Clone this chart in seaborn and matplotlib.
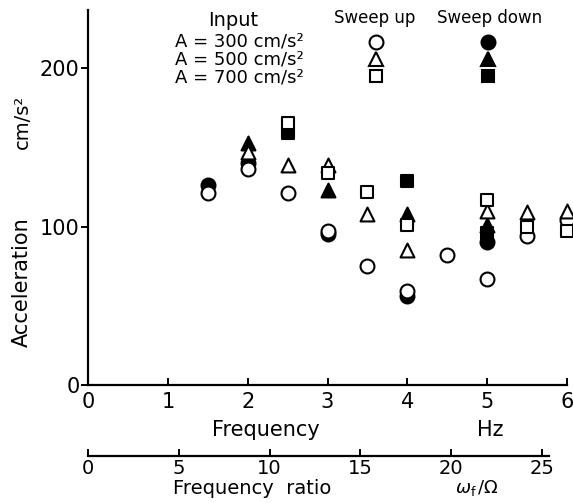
import matplotlib
matplotlib.use("Agg")
import matplotlib.pyplot as plt
from matplotlib.lines import Line2D
import numpy as np
import pandas as pd
import seaborn as sns

# Response acceleration (cm/s^2) against excitation frequency (Hz)
amplitudes = ["A = 300 cm/s²", "A = 500 cm/s²", "A = 700 cm/s²"]
amp_markers = {300: "o", 500: "^", 700: "s"}
amp_sizes = {300: 100, 500: 100, 700: 78}

freq_up_300 = [1.5, 2.0, 2.5, 3.0, 3.5, 4.0, 4.5, 5.0, 5.5, 6.0]
acc_up_300 = [121, 136, 121, 97, 75, 59, 82, 67, 94, 104]
freq_down_300 = [1.5, 2.0, 3.0, 4.0, 5.0]
acc_down_300 = [126, 140, 95, 56, 90]

freq_up_500 = [2.0, 2.5, 3.0, 3.5, 4.0, 5.0, 5.5, 6.0]
acc_up_500 = [147, 139, 139, 108, 85, 110, 109, 110]
freq_down_500 = [2.0, 3.0, 4.0, 5.0]
acc_down_500 = [153, 123, 108, 101]

freq_up_700 = [2.5, 3.0, 3.5, 4.0, 5.0, 5.5, 6.0]
acc_up_700 = [165, 134, 122, 101, 117, 100, 97]
freq_down_700 = [2.5, 4.0, 5.0]
acc_down_700 = [159, 129, 96]

x_ticks = [0, 1, 2, 3, 4, 5, 6]
y_ticks = [0, 100, 200]
ratio_ticks = [0, 5, 10, 15, 20, 25]


def frame(freq, acc, amp, sweep):
    return pd.DataFrame({"freq": freq, "acc": acc, "amp": amp, "sweep": sweep})


df = pd.concat([
    frame(freq_up_300, acc_up_300, 300, "up"),
    frame(freq_down_300, acc_down_300, 300, "down"),
    frame(freq_up_500, acc_up_500, 500, "up"),
    frame(freq_down_500, acc_down_500, 500, "down"),
    frame(freq_up_700, acc_up_700, 700, "up"),
    frame(freq_down_700, acc_down_700, 700, "down"),
], ignore_index=True)

sns.set_style("ticks", {"axes.edgecolor": "black", "text.color": "black",
                        "xtick.color": "black", "ytick.color": "black",
                        "axes.labelcolor": "black"})
plt.rcParams["font.family"] = ["DejaVu Sans"]
plt.rcParams["mathtext.fontset"] = "dejavusans"

W, H = 573, 503
fig = plt.figure(figsize=(W / 100, H / 100), dpi=100)


def fx(x):
    return x / W


def fy(y):
    return 1 - y / H


ax = fig.add_axes([fx(88), fy(385), fx(567) - fx(88), fy(10) - fy(385)])

lw = 1.5
# filled markers (sweep down) first, hollow (sweep up) drawn on top
for sweep, face, z in (("down", "black", 3), ("up", "white", 4)):
    for amp, mk in amp_markers.items():
        sub = df[(df.sweep == sweep) & (df.amp == amp)]
        sns.scatterplot(data=sub, x="freq", y="acc", marker=mk,
                        color=face, edgecolor="black", linewidth=lw,
                        s=amp_sizes[amp], legend=False, ax=ax, zorder=z,
                        clip_on=False)

ax.set_xlim(0, 6)
ax.set_ylim(0, 236.6)
ax.set_xticks(x_ticks)
ax.set_yticks(y_ticks)
ax.set_xlabel("")
ax.set_ylabel("")
for side in ("top", "right"):
    ax.spines[side].set_visible(False)
for side in ("left", "bottom"):
    ax.spines[side].set_linewidth(1.6)
ax.tick_params(axis="x", direction="in", length=5, width=1.4, labelsize=15, pad=5)
ax.tick_params(axis="y", direction="out", length=5, width=1.4, labelsize=15, pad=1)
ax.set_xticklabels([str(t) for t in x_ticks])
ax.set_yticklabels([str(t) for t in y_ticks])

# Frequency ratio scale below the frequency axis
ax2 = fig.add_axes([fx(88), fy(456), fx(549) - fx(88), 0.0001])
ax2.set_xlim(0, 25.39)
ax2.set_xticks(ratio_ticks)
ax2.set_yticks([])
for side in ("top", "right", "left"):
    ax2.spines[side].set_visible(False)
ax2.spines["bottom"].set_linewidth(1.6)
ax2.tick_params(axis="x", direction="in", length=5, width=1.4, labelsize=14, pad=2)
ax2.patch.set_visible(False)

# axis titles
fig.text(fx(266), fy(430), "Frequency", fontsize=15, ha="center", va="center")
fig.text(fx(490), fy(430), "Hz", fontsize=15, ha="center", va="center")
fig.text(fx(252), fy(489), "Frequency  ratio", fontsize=14, ha="center", va="center")
fig.text(fx(477), fy(488), r"$\omega_{\rm f}\,/\Omega$", fontsize=13, ha="center", va="center")
fig.text(fx(22), fy(282), "Acceleration", fontsize=15, rotation=90, ha="center", va="center")
fig.text(fx(22), fy(122), "cm/s²", fontsize=14, rotation=90, ha="center", va="center")

# key
fig.text(fx(233), fy(20), "Input", fontsize=14, ha="center", va="center")
fig.text(fx(375), fy(18), "Sweep up", fontsize=12, ha="center", va="center")
fig.text(fx(490), fy(18), "Sweep down", fontsize=12, ha="center", va="center")
for label, yy in zip(amplitudes, (42, 59, 77)):
    fig.text(fx(175), fy(yy), label, fontsize=13, ha="left", va="center")

key_ms = {300: 10, 500: 10, 700: 8.8}
handles = []
for face in ("white", "black"):
    for amp in (300, 500, 700):
        handles.append(Line2D([], [], linestyle="none", marker=amp_markers[amp],
                              markersize=key_ms[amp], markerfacecolor=face,
                              markeredgecolor="black", markeredgewidth=lw))
fs = 10
leg = ax.legend(handles=handles, labels=[""] * 6, ncol=2, frameon=False,
                fontsize=fs, handlelength=1.0, handletextpad=0.0,
                columnspacing=(112 - 13.9) / 13.9, labelspacing=0.2,
                borderpad=0, borderaxespad=0, numpoints=1,
                loc="center", bbox_to_anchor=(fx(432), fy(60)),
                bbox_transform=fig.transFigure)

fig.savefig("out.png", dpi=100)
